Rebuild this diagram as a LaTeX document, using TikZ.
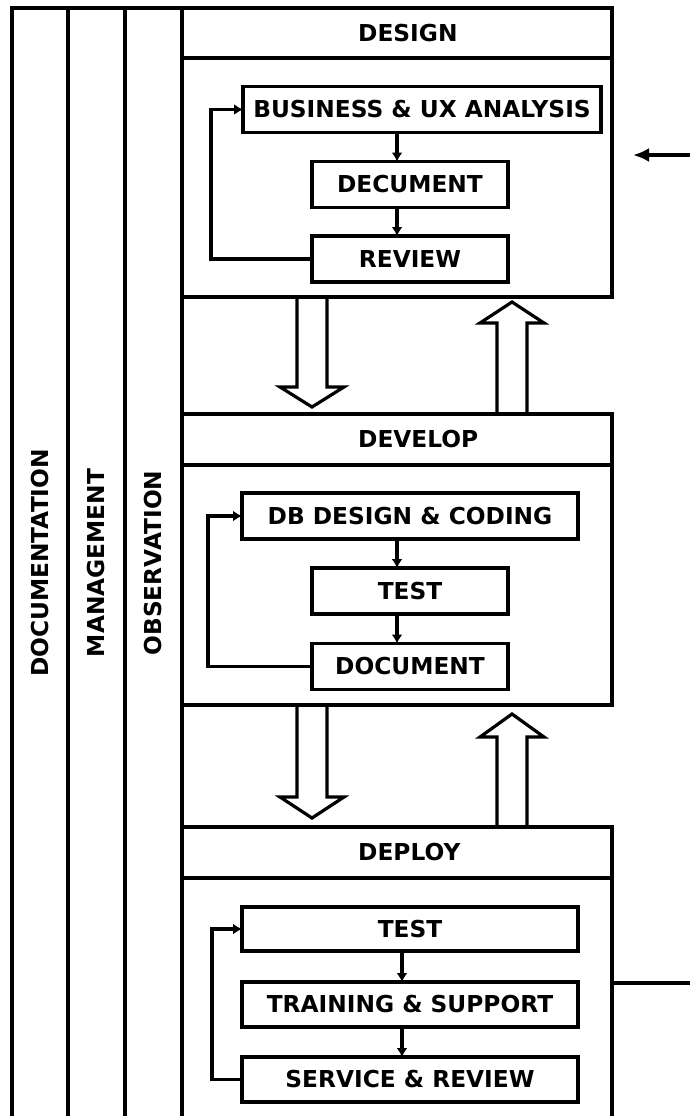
\documentclass[tikz,border=0pt]{standalone}
\usepackage{fontspec}
\setmainfont{DejaVu Sans}
\usetikzlibrary{arrows.meta,positioning}

% hollow block arrow: x, tail, base of head, tip
\newcommand\fatarrow[4]{%
  \draw[fat] (#1-15,#2) -- (#1-15,#3) -- (#1-32,#3) -- (#1,#4)
    -- (#1+32,#3) -- (#1+15,#3) -- (#1+15,#2);}

\begin{document}
\begin{tikzpicture}[x=1pt,y=-1pt,
  font=\bfseries\fontsize{23.3}{28}\selectfont,
  frame/.style={draw,line width=3.2pt,inner sep=0pt,outer sep=0pt},
  box/.style={draw,line width=3.2pt,minimum height=46,inner sep=0pt,outer sep=0pt},
  tag/.style={inner sep=0pt},
  flow/.style={line width=3.2pt,-{Latex[length=9pt,width=11pt]}},
  fat/.style={line width=3.2pt,line join=miter}]
\useasboundingbox (0,0) rectangle (690,1116);

% side columns
\node[frame,minimum width=56,minimum height=1110,anchor=north west] (docstrip) at (12,8) {};
\node[frame,minimum width=57,minimum height=1110,anchor=north west] (mgtstrip) at (68,8) {};
\node[frame,minimum width=57,minimum height=1110,anchor=north west] (obsstrip) at (125,8) {};
\node[tag,rotate=90] at (docstrip) {DOCUMENTATION};
\node[tag,rotate=90] at (mgtstrip) {MANAGEMENT};
\node[tag,rotate=90] at (obsstrip) {OBSERVATION};

% design
\node[frame,minimum width=430,minimum height=50,anchor=north west] (deshead) at (182,8) {};
\node[frame,minimum width=430,minimum height=239,anchor=north] (desbody) at (deshead.south) {};
\node[tag,right=176pt of deshead.west] {DESIGN};
\node[box,minimum width=358] (bua) at (422,109.5) {BUSINESS \& UX ANALYSIS};
\node[box,minimum width=196] (dec) at (410,184.5) {DECUMENT};
\node[box,minimum width=196] (rev) at (410,259) {REVIEW};
\draw[flow] ([xshift=-13pt]dec.north |- bua.south) -- ([xshift=-13pt]dec.north);
\draw[flow] ([xshift=-13pt]dec.south) -- ([xshift=-13pt]rev.north);
\draw[flow] (rev.west) -- ++(-101,0) |- (bua.west);

% develop
\node[frame,minimum width=430,minimum height=51,anchor=north west] (devhead) at (182,414) {};
\node[frame,minimum width=430,minimum height=240,anchor=north] (devbody) at (devhead.south) {};
\node[tag,right=176pt of devhead.west] {DEVELOP};
\node[box,minimum width=336] (dbd) at (410,516) {DB DESIGN \& CODING};
\node[box,minimum width=196] (tst) at (410,591) {TEST};
\node[box,minimum width=196] (dcm) at (410,666.5) {DOCUMENT};
\draw[flow] ([xshift=-13pt]dbd.south) -- ([xshift=-13pt]tst.north);
\draw[flow] ([xshift=-13pt]tst.south) -- ([xshift=-13pt]dcm.north);
\draw[flow] (dcm.west) -- ++(-104,0) |- (dbd.west);

% deploy
\node[frame,minimum width=430,minimum height=51,anchor=north west] (dephead) at (182,827) {};
\node[frame,minimum width=430,minimum height=240,anchor=north] (depbody) at (dephead.south) {};
\node[tag,right=176pt of dephead.west] {DEPLOY};
\node[box,minimum width=336,minimum height=44] (dtst) at (410,929) {TEST};
\node[box,minimum width=336,minimum height=45] (trn) at (410,1004.5) {TRAINING \& SUPPORT};
\node[box,minimum width=336,minimum height=45] (srv) at (410,1079.5) {SERVICE \& REVIEW};
\draw[flow] ([xshift=-8pt]dtst.south) -- ([xshift=-8pt]trn.north);
\draw[flow] ([xshift=-8pt]trn.south) -- ([xshift=-8pt]srv.north);
\draw[flow] (srv.west) -- ++(-30,0) |- (dtst.west);

% hand-over between stages
\fatarrow{312}{297}{387}{407}
\fatarrow{512}{414}{323}{302}
\fatarrow{312}{705}{797}{818}
\fatarrow{512}{827}{737}{714}

% feedback in and out
\coordinate (inR) at (690,155);
\coordinate (outR) at (690,983);
\draw[line width=3.2pt,-{Latex[length=16pt,width=14pt]}] (inR) -- ++(-57,0);
\draw[line width=3.2pt] (depbody.east |- outR) -- (outR);

\end{tikzpicture}
\end{document}
